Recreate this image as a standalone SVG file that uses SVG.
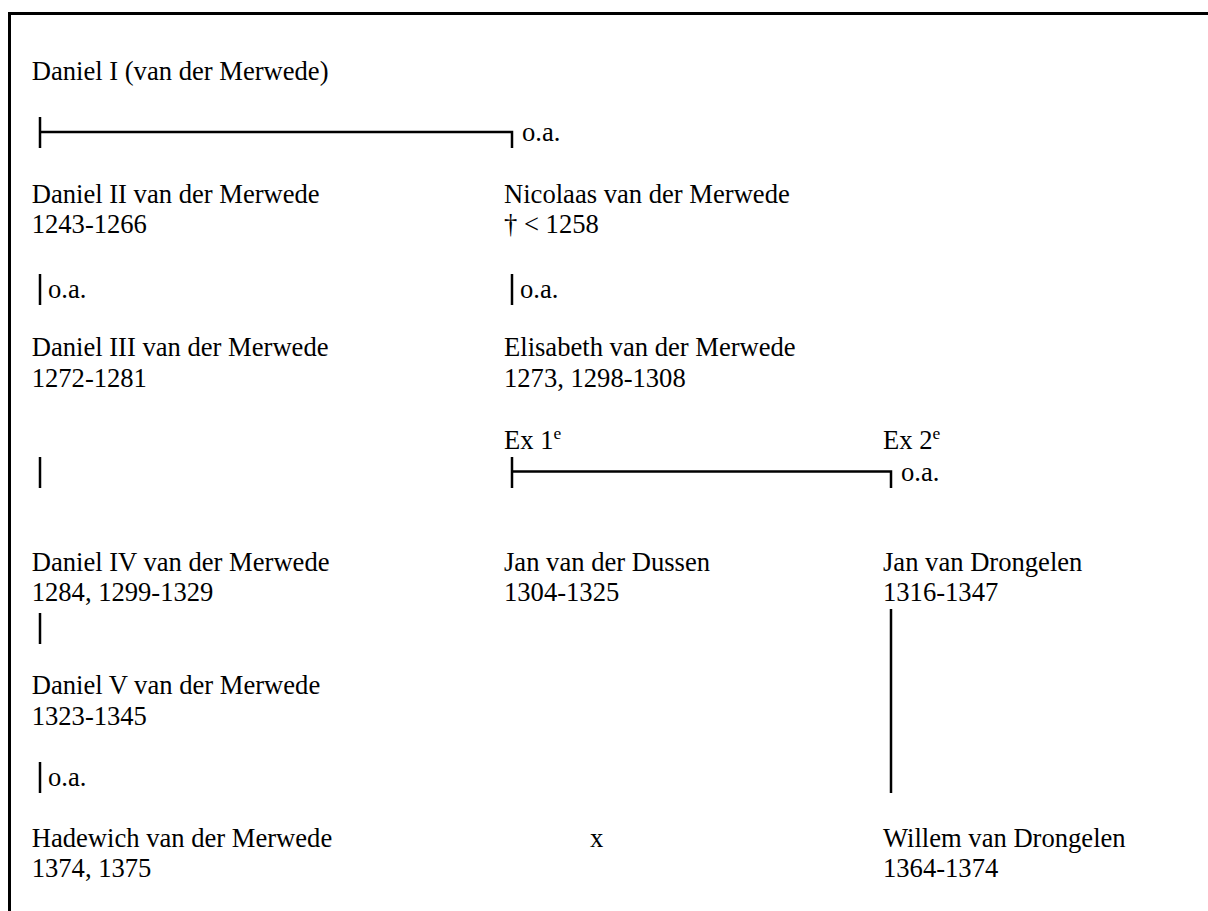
<svg xmlns="http://www.w3.org/2000/svg" width="1208" height="911" viewBox="0 0 1208 911">
<style>
text{font-family:"Liberation Serif","Times New Roman",serif;font-size:26.6px;fill:#000}
.ln{stroke:#000;stroke-width:2.5;fill:none}
.bd{stroke:#000;stroke-width:3;fill:none}
.sup{font-size:17.5px}
</style>
<rect width="1208" height="911" fill="#fff"/>
<path class="bd" d="M9.5,911 V13.5 H1208"/>
<g id="connectors">
<path class="ln" d="M40,117 V148 M40,132 H512 V148"/>
<path class="ln" d="M40,274 V305"/>
<path class="ln" d="M512,274 V305"/>
<path class="ln" d="M40,457 V488"/>
<path class="ln" d="M512,457 V488 M512,471.5 H891 V488"/>
<path class="ln" d="M40,613 V644"/>
<path class="ln" d="M891,609 V793"/>
<path class="ln" d="M40,762 V793"/>
</g>
<g id="labels">
<text x="522" y="141.3">o.a.</text>
<text x="48" y="298">o.a.</text>
<text x="520" y="298">o.a.</text>
<text x="504" y="449">Ex 1<tspan class="sup" dy="-10">e</tspan></text>
<text x="883" y="449">Ex 2<tspan class="sup" dy="-10">e</tspan></text>
<text x="901" y="480.5">o.a.</text>
<text x="48" y="786">o.a.</text>
<text x="590" y="846.7">x</text>
</g>
<g id="n1"><text x="31.7" y="80">Daniel I (van der Merwede)</text></g>
<g id="n2"><text x="31.7" y="202.7">Daniel II van der Merwede</text><text x="31.7" y="233.3">1243-1266</text></g>
<g id="n3"><text x="504" y="202.7">Nicolaas van der Merwede</text><text x="504" y="233.3">† &lt; 1258</text></g>
<g id="n4"><text x="31.7" y="356">Daniel III van der Merwede</text><text x="31.7" y="386.7">1272-1281</text></g>
<g id="n5"><text x="504" y="356">Elisabeth van der Merwede</text><text x="504" y="386.7">1273, 1298-1308</text></g>
<g id="n6"><text x="31.7" y="571">Daniel IV van der Merwede</text><text x="31.7" y="601">1284, 1299-1329</text></g>
<g id="n7"><text x="504" y="571">Jan van der Dussen</text><text x="504" y="601">1304-1325</text></g>
<g id="n8"><text x="883" y="571">Jan van Drongelen</text><text x="883" y="601">1316-1347</text></g>
<g id="n9"><text x="31.7" y="694">Daniel V van der Merwede</text><text x="31.7" y="724.5">1323-1345</text></g>
<g id="n10"><text x="31.7" y="846.7">Hadewich van der Merwede</text><text x="31.7" y="877.3">1374, 1375</text></g>
<g id="n11"><text x="883" y="846.7">Willem van Drongelen</text><text x="883" y="877.3">1364-1374</text></g>
</svg>
